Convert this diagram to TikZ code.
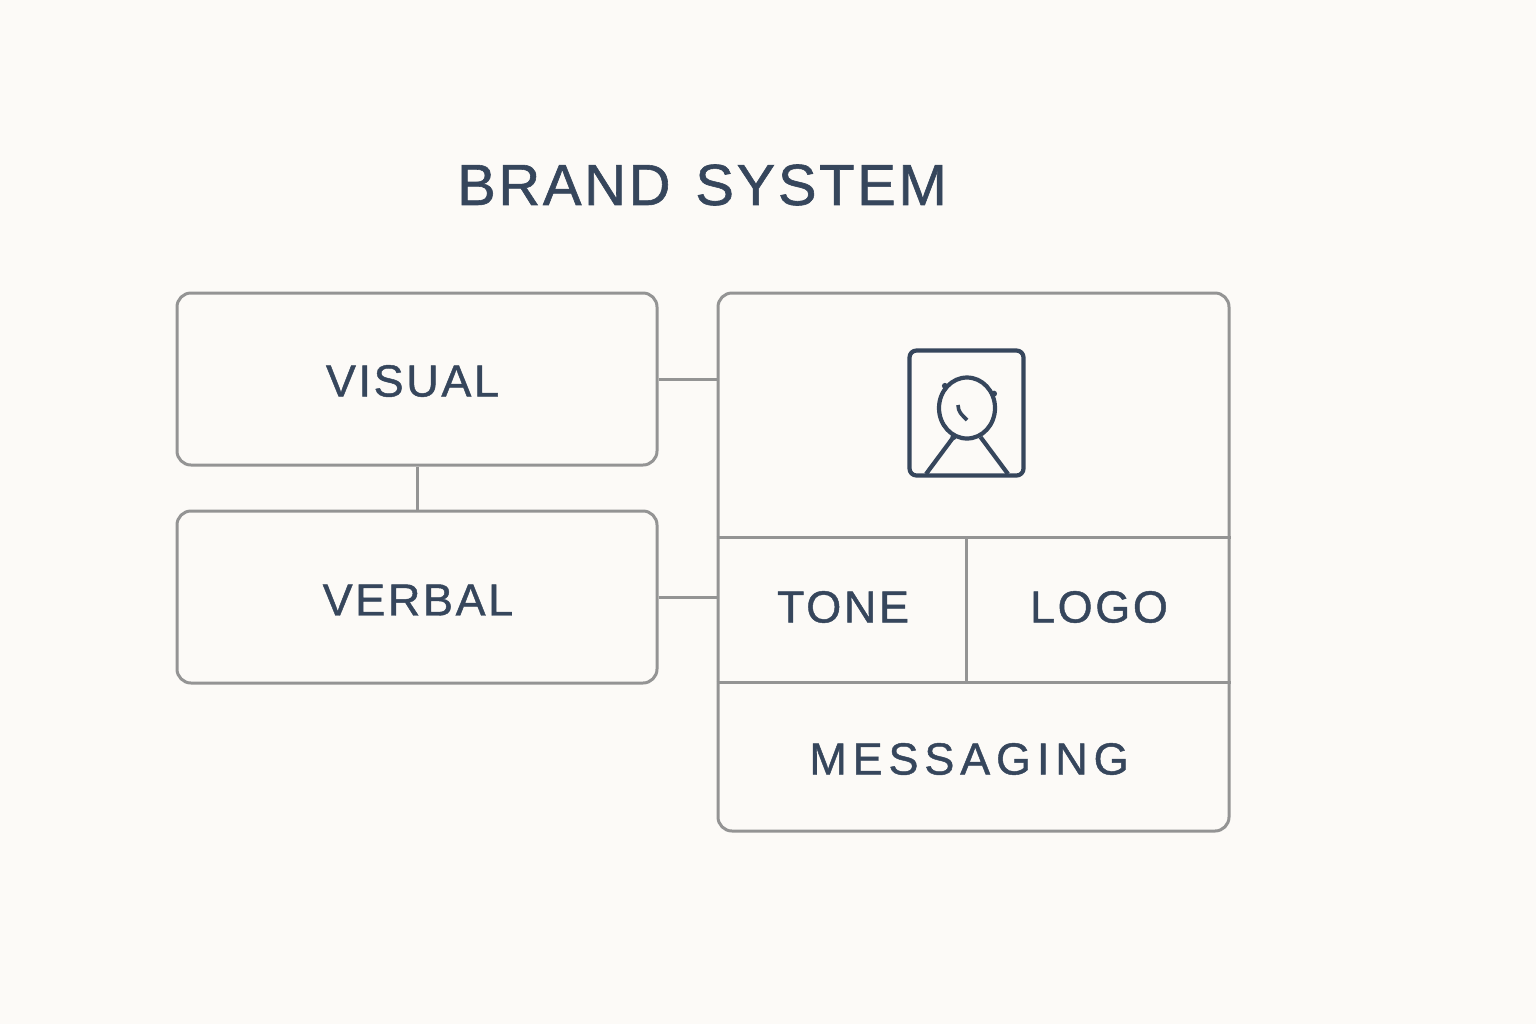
\documentclass[tikz,border=0pt]{standalone}
\usepackage{fontspec}
\setmainfont{Liberation Sans}
\newfontfamily\titlefont[LetterSpace=4.5,FakeBold=1]{Liberation Sans}
\newfontfamily\labelfont[LetterSpace=5.8,FakeBold=1]{Liberation Sans}
\newfontfamily\widefont[LetterSpace=13,FakeBold=1]{Liberation Sans}
\usepackage{tikz}
\usetikzlibrary{positioning,backgrounds,shapes.geometric}
\definecolor{ink}{HTML}{36465C}
\definecolor{rule}{HTML}{949494}
\definecolor{paper}{HTML}{FCFAF7}
\tikzset{
  box/.style={draw=rule, line width=1.5pt, rounded corners=7pt, inner sep=0pt},
  link/.style={draw=rule, line width=1.5pt},
  word/.style={text=ink, inner sep=0pt, font=\labelfont\fontsize{22.5}{24}\selectfont},
  icon/.style={draw=ink, line width=2.1pt},
  bump/.style={circle, fill=ink, inner sep=0pt, minimum size=3pt}
}
\begin{document}
\begin{tikzpicture}[x=0.5pt,y=-0.5pt]
\useasboundingbox[fill=paper] (0,0) rectangle (1536,1024);
    \node (Title) [text=ink, inner sep=0pt, font=\titlefont\fontsize{29}{32}\selectfont] at (702,185) {BRAND\hspace{3pt} SYSTEM};
    \node (Visual) [box, minimum width=240pt, minimum height=86pt] at (417,379) {};
    \node (Verbal) [box, minimum width=240pt, minimum height=86pt, below=21.5pt of Visual] {};
    \node (Panel) [box, minimum width=255.5pt, minimum height=269pt] at (973.5,562) {};
    \node (VisualText) [word] at (412.5,381) {VISUAL};
    \node (VerbalText) [word] at (418,600) {VERBAL};
    \node (Tone) [word] at (843,607) {TONE};
    \node (Logo) [word] at (1099,607) {LOGO};
    \node (Messaging) [word, font=\widefont\fontsize{22.5}{24}\selectfont] at (969,759) {MESSAGING};
    % panel rows and cells
    \coordinate (RowA) at (973,537);
    \coordinate (RowB) at (973,682);
    \coordinate (CellA) at (966,537);
    \coordinate (CellB) at (966,682);
    \draw[link] (RowA -| Panel.west) -- (RowA -| Panel.east);
    \draw[link] (RowB -| Panel.west) -- (RowB -| Panel.east);
    \draw[link] (CellA) -- (CellB);
    % connectors
    \draw[link] (Visual.east) -- (Visual.east -| Panel.west);
    \draw[link] (Verbal.east) -- (Verbal.east -| Panel.west);
    \draw[link] (Visual.south) -- (Verbal.north);
    % portrait icon
    \node (Frame) [icon, rounded corners=3.5pt, inner sep=0pt, minimum width=57pt, minimum height=62.5pt] at (966.5,413) {};
    \node (Head) [icon, ellipse, inner sep=0pt, minimum width=28pt, minimum height=30.5pt] at (967,408) {};
    \coordinate (ShoulderL) at (926,474);
    \coordinate (ShoulderR) at (1008,474);
    \draw[icon] (Head.245) -- (ShoulderL);
    \draw[icon] (Head.-65) -- (ShoulderR);
    \draw[icon, line width=1.8pt] (958,405) .. controls (958,412) and (962,415) .. (967,420);
    \node (BumpA) [bump] at (Head.135) {};
    \node (BumpB) [bump] at (Head.28) {};
    \node (BumpC) [bump] at (Head.245) {};
\end{tikzpicture}
\end{document}
